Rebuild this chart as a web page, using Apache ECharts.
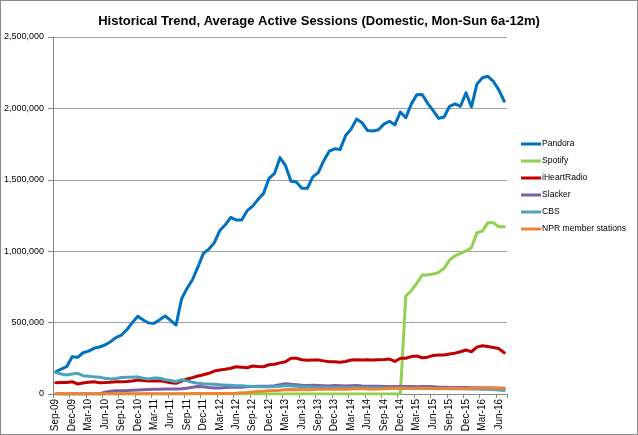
<!DOCTYPE html>
<html>
<head>
<meta charset="utf-8">
<script src="https://cdn.jsdelivr.net/npm/echarts@6/dist/echarts.min.js"></script>
<style>
html,body{margin:0;padding:0;background:#fff;}
#c{position:absolute;left:0;top:0;width:638px;height:435px;}
#b{position:absolute;left:0;top:0;width:638px;height:435px;box-sizing:border-box;border:1px solid #8c8c8c;pointer-events:none;}
</style>
</head>
<body>
<div id="c"></div>
<div id="b"></div>
<script>
const categories = ["Sep-09","Oct-09","Nov-09","Dec-09","Jan-10","Feb-10","Mar-10","Apr-10","May-10","Jun-10","Jul-10","Aug-10",
"Sep-10","Oct-10","Nov-10","Dec-10","Jan-11","Feb-11","Mar-11","Apr-11","May-11","Jun-11","Jul-11","Aug-11",
"Sep-11","Oct-11","Nov-11","Dec-11","Jan-12","Feb-12","Mar-12","Apr-12","May-12","Jun-12","Jul-12","Aug-12",
"Sep-12","Oct-12","Nov-12","Dec-12","Jan-13","Feb-13","Mar-13","Apr-13","May-13","Jun-13","Jul-13","Aug-13",
"Sep-13","Oct-13","Nov-13","Dec-13","Jan-14","Feb-14","Mar-14","Apr-14","May-14","Jun-14","Jul-14","Aug-14",
"Sep-14","Oct-14","Nov-14","Dec-14","Jan-15","Feb-15","Mar-15","Apr-15","May-15","Jun-15","Jul-15","Aug-15",
"Sep-15","Oct-15","Nov-15","Dec-15","Jan-16","Feb-16","Mar-16","Apr-16","May-16","Jun-16","Jul-16"];

// values in thousands of sessions
const pandora = [156,175,191,261,257,289,300,320,329,343,
366,395,412,450,500,545,518,497,495,520,
546,515,483,665,740,800,890,985,1015,1060,
1145,1185,1237,1218,1218,1284,1316,1363,1405,1510,
1545,1655,1600,1490,1484,1440,1440,1520,1550,1634,
1700,1717,1713,1810,1855,1925,1900,1845,1842,1850,
1890,1910,1885,1975,1935,2030,2095,2098,2035,1985,
1930,1940,2015,2032,2015,2110,2010,2170,2215,2225,
2190,2130,2050];

const spotify = [0,0,0,0,0,0,0,0,0,0,
0,0,0,0,0,0,0,0,0,0,
0,0,0,0,0,0,0,0,0,0,
0,0,0,0,0,0,0,0,0,0,
0,0,0,0,0,0,0,0,0,0,
0,0,0,0,0,0,0,0,0,0,
0,0,0,0,686,723,775,833,833,840,
852,880,938,968,985,1003,1024,1129,1141,1200,
1200,1171,1171];

const iheart = [79,80,80,86,70,77,82,86,79,80,
82,86,86,88,91,98,95,91,91,93,
88,78,75,90,105,115,126,135,145,161,
168,173,180,191,188,184,196,192,191,205,
208,218,226,250,250,240,236,238,238,232,
226,226,222,228,238,240,238,240,238,240,
242,245,228,250,250,262,266,254,258,270,
273,273,280,286,296,308,296,328,338,332,
325,318,289];

const slacker = [0,0,0,0,0,0,0,0,0,12,
20,22,23,24,26,28,30,32,34,34,
35,35,35,36,40,48,52,50,45,42,
42,45,47,48,48,50,52,54,55,56,
58,65,72,68,65,62,60,62,60,58,
56,60,58,56,58,60,56,55,55,54,
53,52,52,52,52,52,50,52,52,50,
48,48,46,46,45,45,44,44,42,42,
42,40,40];

const cbs = [150,140,133,140,145,128,125,120,117,110,
105,108,115,117,118,120,110,105,112,110,
100,95,86,100,92,82,75,72,70,68,
65,63,62,58,57,55,52,50,50,51,
52,55,60,58,55,50,50,48,48,47,
46,46,46,45,45,44,44,44,43,43,
42,42,42,41,41,40,40,40,39,39,
38,38,37,37,36,36,35,35,34,33,
31,28,25];

const npr = [2,2,2,2,2,2,2,2,2,2,
2,2,2,2,2,2,2,2,2,2,
2,2,2,2,2,3,3,3,3,3,
3,3,4,5,8,10,14,18,20,22,
24,26,30,32,30,32,30,32,33,33,
34,34,35,34,35,36,36,35,34,35,
36,38,40,40,40,38,38,40,40,38,
36,38,40,40,38,36,40,42,42,44,
42,40,40];

const seriesNames = ["Pandora","Spotify","iHeartRadio","Slacker","CBS","NPR member stations"];
const seriesData = [pandora, spotify, iheart, slacker, cbs, npr];
const colors = ["#0070C0","#92D050","#C00000","#7F5FA3","#4BA3BE","#EE8433"];

const chart = echarts.init(document.getElementById('c'), null, {renderer:'canvas'});
const fontFam = '"Liberation Sans", Arial, sans-serif';
chart.setOption({
  animation:false,
  backgroundColor:'#fff',
  title:{
    text:'Historical Trend, Average Active Sessions (Domestic, Mon-Sun 6a-12m)',
    left:'center', top:10,
    textStyle:{fontFamily:'"Liberation Sans Narrow", "Liberation Sans", sans-serif', fontSize:13, fontWeight:'bold', color:'#000'}
  },
  grid:{left:53, right:131, top:37, bottom:41, containLabel:false},
  legend:{
    orient:'vertical', left:521, top:138, padding:0,
    itemWidth:20, itemHeight:3, itemGap:5,
    icon:'rect',
    textStyle:{fontFamily:fontFam, fontSize:8.6, color:'#000', lineHeight:12, padding:[0,0,0,-4]},
    data:seriesNames
  },
  xAxis:{
    type:'category', data:categories, boundaryGap:true,
    axisLine:{lineStyle:{color:'#868686', width:1}},
    axisTick:{show:true, interval:2, length:4, lineStyle:{color:'#868686'}},
    axisLabel:{interval:2, rotate:90, fontFamily:fontFam, fontSize:10, color:'#000', margin:5}
  },
  yAxis:{
    type:'value', min:0, max:2500000, interval:500000,
    axisLine:{show:true, lineStyle:{color:'#868686', width:1}},
    axisTick:{show:true, length:5, lineStyle:{color:'#868686'}},
    splitLine:{lineStyle:{color:'#A0A0A0', width:1}},
    axisLabel:{fontFamily:fontFam, fontSize:9, color:'#000', margin:9,
      formatter:v=>String(v).replace(/\B(?=(\d{3})+(?!\d))/g, ',')}
  },
  series: seriesNames.map((n,i)=>({
    name:n, type:'line', data:seriesData[i].map(v=>v*1000),
    showSymbol:false, symbol:'none', smooth:false,
    lineStyle:{width:3, color:colors[i], cap:'round', join:'round'},
    itemStyle:{color:colors[i]}
  }))
});
</script>
</body>
</html>
